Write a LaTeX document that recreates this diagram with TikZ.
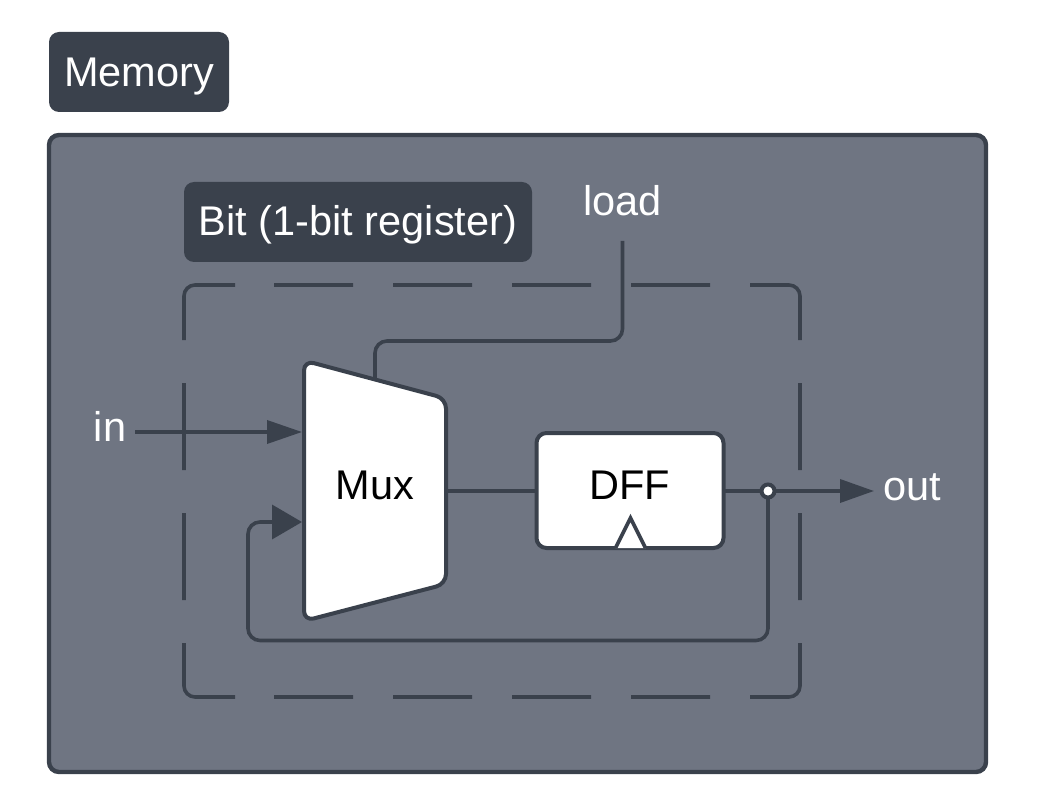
\documentclass[tikz,border=0pt]{standalone}
\usepackage{fontspec}
\setmainfont{Liberation Sans}
\usetikzlibrary{arrows.meta}
\definecolor{panel}{HTML}{6F7582}
\definecolor{ink}{HTML}{3A414C}
\tikzset{
  bigtext/.style={font=\fontsize{41.5}{41.5}\selectfont},
  labelbox/.style={bigtext,fill=ink,text=white,rounded corners=10pt,inner sep=0pt,text depth=2pt},
  freetext/.style={bigtext,text=white,inner sep=0pt,anchor=base},
  wire/.style={draw=ink,line width=3.6pt},
  blockline/.style={draw=ink,line width=4pt,fill=white,line join=round},
  smalltip/.style={-{Triangle[length=35pt,width=23pt]}},
  fbtip/.style={-{Triangle[length=30pt,width=34pt]}},
  outtip/.style={-{Triangle[length=34pt,width=23pt]}},
}
\begin{document}
\begin{tikzpicture}[x=1pt,y=-1pt]
\useasboundingbox (0,0) rectangle (1052,810);
% outer panel and labels
\draw[draw=ink,line width=4.4pt,fill=panel,rounded corners=10pt] (49,135) rectangle (986,772);
\node[labelbox,minimum width=180pt,minimum height=80pt,text height=32pt] (memory) at (139,72) {Memory};
\node[labelbox,minimum width=348pt,minimum height=80pt,text height=30pt] (bit) at (358,222) {Bit (1-bit register)};
% dashed boundary
\draw[draw=ink,line width=3.6pt]
  [rounded corners=11pt] (235,285) -- (184,285) -- (184,340)
  (750,285) -- (800,285) -- (800,340)
  (184,643) -- (184,697) -- (235,697)
  (800,643) -- (800,697) -- (750,697)
  [sharp corners]
  (274,285) -- (353,285) (393,285) -- (472,285) (512,285) -- (591,285) (631,285) -- (710,285)
  (274,697) -- (353,697) (393,697) -- (472,697) (512,697) -- (591,697) (631,697) -- (710,697)
  (184,383) -- (184,470) (184,513) -- (184,600)
  (800,383) -- (800,470) (800,513) -- (800,600);
% named points
\coordinate (inA) at (135,432);
\coordinate (inB) at (302,432);
\coordinate (fbB) at (302,522);
\coordinate (loadA) at (622.5,241);
\coordinate (loadB) at (375,382);
\coordinate (muxOut) at (446,491);
\coordinate (outB) at (874,491);
\coordinate (joint) at (768,491);
% text labels
\node[freetext] (load) at (622.5,216) {load};
\node[freetext] (in) at (110,441) {in};
\node[freetext] (out) at (912.5,500) {out};
% connectors
\draw[wire,smalltip] (inA) -- (inB);
\draw[wire,rounded corners=12pt] (loadA) -- (loadA |- 0,341) -- (loadB |- 0,341) -- (loadB);
\draw[wire,fbtip,rounded corners=12pt] (joint) -- (768,640.5) -- (248,640.5) -- (248,522) -- (fbB);
\draw[wire] (muxOut) -- (540,491);
\draw[wire] (725,491) -- (joint);
\draw[wire,outtip] (joint) -- (outB);
% mux
\draw[blockline,rounded corners=10pt] (304,360.5) -- (446,398.5) -- (446,584) -- (304,621) -- cycle;
\node[bigtext,inner sep=0pt,anchor=base] (mux) at (375,499.5) {Mux};
% dff
\node[draw=ink,line width=4pt,fill=white,rounded corners=10pt,bigtext,inner sep=0pt,minimum width=187pt,minimum height=115pt,text height=20pt,text depth=2pt] (dff) at (630,490.5) {DFF};
\draw[draw=ink,line width=3.6pt,fill=white,line join=miter] (615.5,548) -- (630.5,518) -- (645.5,548);
% joint
\node[circle,draw=ink,line width=4pt,fill=white,minimum size=13pt,inner sep=0pt] (dot) at (joint) {};
\end{tikzpicture}
\end{document}
